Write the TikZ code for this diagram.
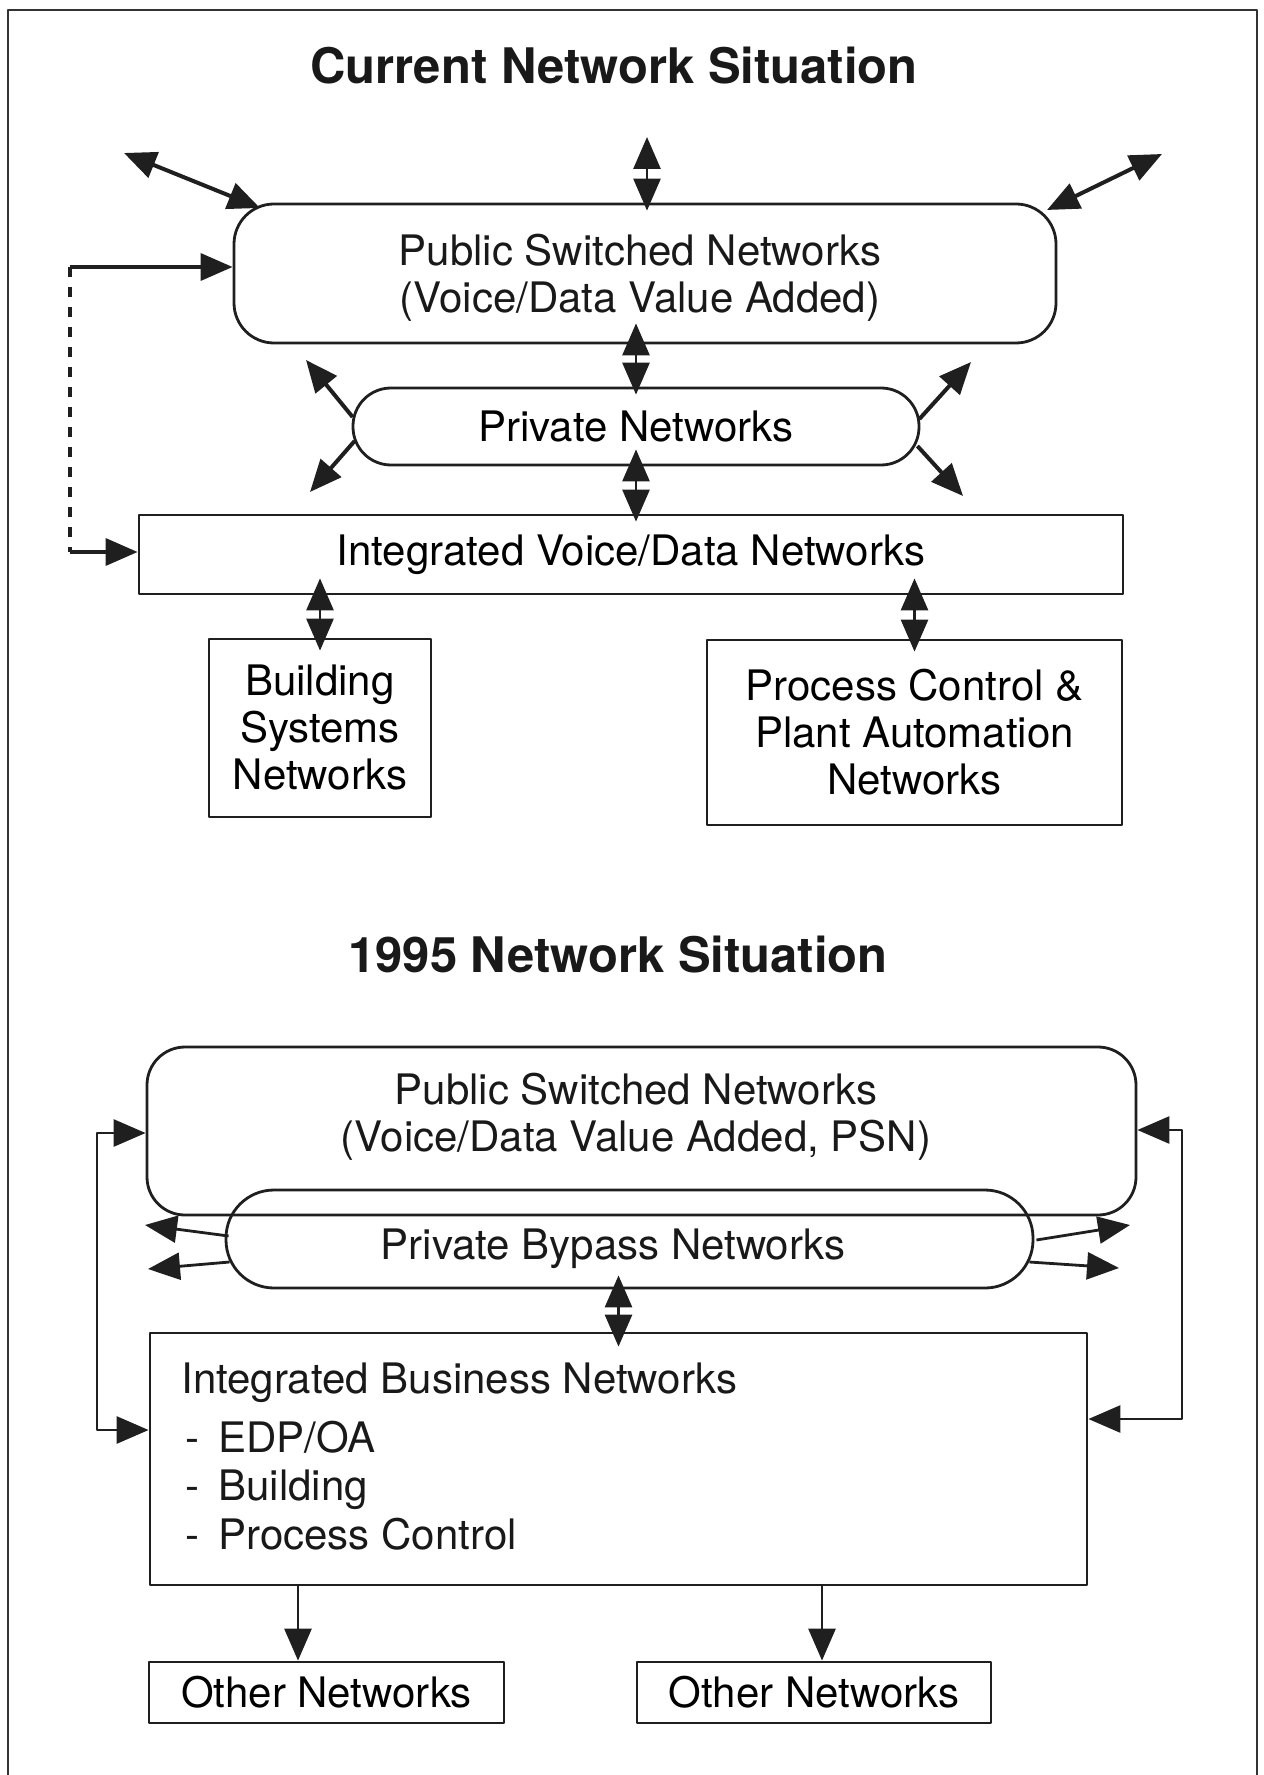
\documentclass[tikz,border=0pt]{standalone}
\usepackage{fontspec}
\setmainfont{TeX Gyre Heros}
\usetikzlibrary{arrows.meta,calc}

\newcommand\netfont{\fontsize{21}{23.5}\selectfont}
\newcommand\headfont{\fontsize{24.5}{28}\selectfont\bfseries}

\begin{document}
\begin{tikzpicture}[x=0.5pt,y=-0.5pt,
  line join=round,
  box/.style={draw=black!88, line width=1.4pt, inner sep=0pt, align=center, font=\netfont},
  lbl/.style={inner sep=0pt, font=\netfont, text=black!90},
  head/.style={inner sep=0pt, font=\headfont, text=black!90},
  arr/.style={draw=black!88, line width=1.4pt, -{Triangle[length=16pt,width=13.5pt]}},
  dbl/.style={draw=black!88, line width=1.4pt, {Triangle[length=16pt,width=13.5pt]}-{Triangle[length=16pt,width=13.5pt]}},
  heavy/.style={line width=2pt}
]
\useasboundingbox (0,0) rectangle (1263,1775);

% page frame (open at the bottom)
\draw[black!80, line width=1pt] (8,1775) -- (8,10) -- (1257,10) -- (1257,1775);

% ---------------- Current network situation ----------------
\node[head, anchor=base] (title1) at (614,84) {Current Network Situation};

\node[box, rounded corners=20pt, minimum width=411pt, minimum height=69.5pt]
  (psn1) at (645,273.5) {};
\node[lbl, align=center, anchor=base] (psn1t) at (640,313)
  {Public Switched Networks\\(Voice/Data Value Added)};
\node[box, rounded corners=19pt, minimum width=283pt, minimum height=38.5pt]
  (priv) at (636,426.5) {Private Networks};
\node[box, minimum width=492pt, minimum height=39.5pt]
  (ivd) at (631,554.5) {Integrated Voice/Data Networks};
\node[box, minimum width=111pt, minimum height=89pt]
  (bld) at (320,728) {Building\\Systems\\Networks};
\node[box, minimum width=207.5pt, minimum height=92.5pt]
  (proc) at (914.5,732.5) {Process Control \&\\Plant Automation\\Networks};

% outside links of the public networks
\coordinate (c1a) at (124,153);
\coordinate (c1b) at (260,208);
\coordinate (c2a) at (647,137);
\coordinate (c3a) at (1162,154);
\coordinate (c3b) at (1047,210);
\draw[dbl, heavy] (c1a) -- (c1b);
\draw[dbl] (c2a) -- ($(c2a |- psn1.north)+(0,8)$);
\draw[dbl, heavy] (c3a) -- (c3b);

% feed into the public and integrated networks
\coordinate (fbt) at (70,267);
\coordinate (fbb) at (70,552);
\draw[arr, line width=1.8pt] (fbt) -- (fbt -| psn1.west);
\draw[black!88, line width=1.6pt, dash pattern=on 5pt off 5pt] (fbt) -- (fbb);
\draw[arr, line width=1.8pt] (fbb) -- (fbb -| ivd.west);

% vertical links between the layers
\draw[dbl] ($(priv.north |- psn1.south)+(0,-21)$) -- ($(priv.north)+(0,8)$);
\draw[dbl] ($(priv.south)+(0,-17)$) -- ($(priv.south |- ivd.north)+(0,8)$);
\draw[dbl] ($(bld.north |- ivd.south)+(0,-17)$) -- ($(bld.north)+(0,13)$);
\draw[dbl] ($(proc.north |- ivd.south)+(0,-17)$) -- ($(proc.north)+(0,13)$);

% private networks reaching outward
\coordinate (p1) at (306,360);
\coordinate (p2) at (310,492);
\coordinate (p3) at (971,362);
\coordinate (p4) at (963,496);
\draw[arr, heavy] ($(priv.west)+(1,-9.5)$) -- (p1);
\draw[arr, heavy] ($(priv.west)+(3,14.5)$) -- (p2);
\draw[arr, heavy] ($(priv.east)+(-1,-7.5)$) -- (p3);
\draw[arr, heavy] ($(priv.east)+(-3,19.5)$) -- (p4);

% ---------------- 1995 network situation ----------------
\node[head, anchor=base] (title2) at (618,972) {1995 Network Situation};

\node[box, rounded corners=19pt, minimum width=494.5pt, minimum height=84pt]
  (psn2) at (641.5,1131) {};
\node[lbl, align=center, anchor=base] (psn2t) at (636,1151)
  {Public Switched Networks\\(Voice/Data Value Added, PSN)};
\node[box, rounded corners=24pt, minimum width=403.5pt, minimum height=49pt]
  (pb) at (629.5,1239) {};
\node[lbl, anchor=base] (pbt) at (613,1259) {Private Bypass Networks};
\node[box, minimum width=468.5pt, minimum height=126pt]
  (ibn) at (618.5,1459) {};
\node[lbl, anchor=base west] (ibnt) at (181,1393) {Integrated Business Networks};
\node[lbl, anchor=base west] (ibn1) at (185,1452) {\makebox[16.5pt][l]{-}EDP/OA};
\node[lbl, anchor=base west] (ibn2) at (185,1500) {\makebox[16.5pt][l]{-}Building};
\node[lbl, anchor=base west] (ibn3) at (185,1549) {\makebox[16.5pt][l]{-}Process Control};
\node[box, minimum width=177.5pt, minimum height=30.5pt]
  (oth1) at (326.5,1692.5) {Other Networks};
\node[box, minimum width=177pt, minimum height=30.5pt]
  (oth2) at (814,1692.5) {Other Networks};

% loops round the left and right sides
\coordinate (ll1) at (97,1133);
\coordinate (ll2) at (97,1430);
\coordinate (rl1) at (1182,1130);
\coordinate (rl2) at (1182,1419);
\draw[dbl] (ll1 -| psn2.west) -- (ll1) -- (ll2) -- (ll2 -| ibn.west);
\draw[dbl] (rl1 -| psn2.east) -- (rl1) -- (rl2) -- (rl2 -| ibn.east);

% bypass networks reaching outward
\coordinate (b1) at (145,1225);
\coordinate (b2) at (148,1269);
\coordinate (b3) at (1130,1225);
\coordinate (b4) at (1119,1268);
\draw[arr] ($(pb.west)+(4,-3)$) -- (b1);
\draw[arr] ($(pb.west)+(5,23)$) -- (b2);
\draw[arr] ($(pb.east)+(2,1)$) -- (b3);
\draw[arr] ($(pb.east)+(-5,23)$) -- (b4);

% bypass to business networks
\draw[dbl] ($(ibn.north |- pb.south)+(0,-14)$) -- ($(ibn.north)+(0,15)$);

% business networks to other networks
\coordinate (d1) at ($(oth1.north)+(-28.5,0)$);
\coordinate (d2) at ($(oth2.north)+(8,0)$);
\draw[arr] (d1 |- ibn.south) -- (d1);
\draw[arr] (d2 |- ibn.south) -- (d2);
\end{tikzpicture}
\end{document}
